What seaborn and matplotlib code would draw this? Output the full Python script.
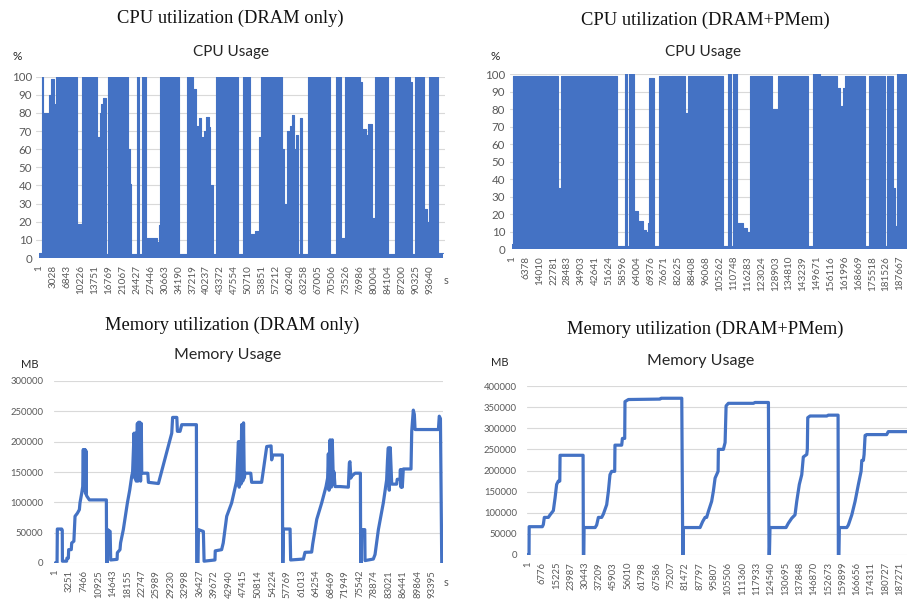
import numpy as np
import pandas as pd
import matplotlib
matplotlib.use("Agg")
import matplotlib.pyplot as plt
import seaborn as sns

# ---------------- data (positions are in category-tick units) ----------------
cpu_dram_ticks = ["1", "3028", "6843", "10226", "13751", "16769", "21067", "24427", "27446",
                  "30663", "34190", "37219", "40237", "43372", "47554", "50710", "53851",
                  "57212", "60240", "63258", "67005", "70506", "73526", "76986", "80004",
                  "84104", "87200", "90325", "93640"]
cpu_pmem_ticks = ["1", "6378", "14010", "22781", "28483", "34903", "42641", "51624", "58596",
                  "64004", "69376", "76671", "82625", "88408", "96068", "105262", "110748",
                  "116283", "123024", "128903", "134810", "143239", "149671", "156116",
                  "161996", "168669", "175518", "181526", "187667"]
mem_dram_ticks = ["1", "3251", "7466", "10925", "14643", "18155", "22747", "25989", "29230",
                  "32998", "36427", "39672", "42940", "47415", "50814", "54224", "57769",
                  "61013", "64254", "68469", "71949", "75542", "78874", "83021", "86441",
                  "89864", "93395"]
mem_pmem_ticks = ["1", "6776", "15225", "23987", "30443", "37209", "45903", "56010", "61798",
                  "67586", "75207", "81472", "87797", "95807", "105506", "111360", "117933",
                  "124540", "130695", "137848", "146870", "152673", "159899", "166656",
                  "174311", "180727", "187271"]

# CPU usage (%) upper envelope of the dense trace, step-wise
cpu_dram_pos = [0.00, 0.19, 0.26, 0.69, 0.86, 1.07, 1.15, 1.24, 1.72, 1.79, 2.75, 3.08, 4.13,
                4.18, 4.35, 4.47, 4.61, 4.82, 4.92, 5.42, 5.49, 5.78, 5.85, 6.40, 6.52, 6.61,
                7.00, 7.14, 7.35, 7.66, 8.43, 8.57, 8.67, 8.95, 9.03, 10.05, 10.58, 11.01,
                11.25, 11.41, 11.49, 11.63, 11.80, 11.94, 12.15, 12.25, 12.49, 12.68, 13.13,
                13.20, 13.42, 13.49, 14.28, 14.64, 14.83, 14.92, 15.11, 15.47, 15.78, 15.88,
                16.07, 16.14, 17.38, 17.55, 17.67, 17.74, 17.88, 17.98, 18.15, 18.29, 18.41,
                18.58, 18.70, 18.86, 19.29, 19.75, 19.82, 20.11, 20.18, 20.85, 21.28, 21.61,
                21.92, 22.99, 23.11, 23.42, 23.59, 23.83, 24.07, 24.55, 24.64, 25.02, 25.50,
                26.58, 26.70, 26.93, 27.58, 27.82, 27.96, 28.61, 28.96]
cpu_dram_pct = [3, 100, 80, 90, 99, 85, 2, 100, 2, 100, 19, 100, 97,
                67, 80, 85, 88, 2, 100, 2, 100, 2, 100, 60, 41, 2,
                100, 2, 100, 11, 9, 18, 100, 82, 100, 2, 100, 93,
                73, 65, 77, 67, 70, 78, 72, 40, 2, 100, 2,
                100, 2, 100, 2, 100, 2, 100, 13, 15, 67, 100,
                2, 100, 60, 30, 15, 70, 64, 73, 79, 60, 68,
                2, 77, 2, 100, 2, 100, 2, 100, 2, 100, 11,
                100, 97, 71, 68, 74, 22, 100, 2, 100, 2, 100,
                97, 2, 100, 27, 20, 100, 3, 3]

cpu_pmem_pos = [0.00, 0.05, 2.55, 2.62, 3.34, 3.44, 3.54, 7.31, 7.36, 7.55, 8.15, 8.32, 8.42,
                8.80, 9.12, 9.43, 9.67, 9.79, 9.88, 10.27, 10.61, 11.38, 11.45, 12.48, 12.72,
                15.25, 15.61, 15.80, 15.92, 16.21, 16.64, 16.93, 17.17, 18.73, 19.22, 21.38,
                21.74, 22.22, 22.32, 23.42, 23.67, 23.86, 24.03, 25.47, 25.78, 26.94, 27.03,
                27.51, 27.63, 27.80, 28.50]
cpu_pmem_pct = [3, 99, 53, 99, 35, 28, 99, 2, 99, 2, 100, 2, 100,
                22, 16, 11, 10, 15, 98, 2, 99, 2, 99, 78, 99,
                2, 100, 2, 100, 15, 12, 10, 99, 80, 99, 2,
                100, 11, 99, 92, 82, 92, 99, 2, 99, 2, 99,
                35, 13, 100, 100]

# Memory usage (MB)
mem_dram_pos = [0.00, 0.14, 0.16, 0.46, 0.50, 0.51, 0.80, 0.82, 0.92, 0.94, 1.12, 1.15, 1.30, 1.38, 1.54, 1.68, 1.72, 1.84, 1.91,
                1.95, 1.98, 2.01, 2.04, 2.07, 2.10, 2.13, 2.16, 2.20, 2.37, 3.54, 3.56, 3.60, 3.63, 3.80, 3.84, 4.28, 4.30, 4.48, 4.52, 4.71, 4.85, 4.99, 5.15, 5.29,
                5.35, 5.45, 5.50, 5.55, 5.60, 5.68, 5.72, 5.76, 5.80, 5.85, 5.90, 5.95, 5.98, 6.40, 6.44, 7.13, 8.05, 8.11, 8.40, 8.44, 8.62, 8.74, 9.75, 9.77, 9.86, 9.89, 10.23, 10.28, 11.03, 11.05, 11.49, 11.60, 11.84, 12.18, 12.53,
                12.65, 12.70, 12.76, 12.82, 12.87, 12.95, 13.00, 13.05, 13.10, 13.50, 13.56, 14.25, 14.60, 14.90, 14.94, 15.01, 15.68, 15.70, 15.72, 15.75, 16.21, 16.25, 17.13, 17.24, 17.70, 17.77, 18.05, 18.39, 18.69,
                18.80, 18.85, 18.90, 18.97, 19.05, 19.12, 19.20, 19.24, 19.31, 19.66, 20.23, 20.30, 20.34, 20.40, 20.46, 20.69, 21.06, 21.08, 21.12, 21.15, 21.36, 21.38, 21.95, 22.07, 22.30, 22.64, 22.87,
                22.93, 22.99, 23.05, 23.12, 23.22, 23.56, 23.60, 23.79, 23.82, 23.86, 23.90, 23.95, 24.02, 24.55, 24.60, 24.71, 24.78, 24.83, 26.44, 26.50, 26.58, 26.67]
mem_dram_mb = [0, 0, 56000, 56000, 54000, 3000, 3000, 8000, 8000, 22000, 22000, 33000, 36000, 77000, 82000, 88000, 99000, 115000, 126000,
               187000, 125000, 187000, 120000, 187000, 115000, 185000, 112000, 110000, 104000, 104000, 0, 0, 55000, 52000, 5000, 6000, 17000, 22000, 33000, 55000, 77000, 99000, 120000, 143000,
               150000, 214000, 140000, 214000, 135000, 230000, 135000, 232000, 140000, 232000, 135000, 230000, 148000, 148000, 133000, 131000, 214000, 240000, 240000, 217000, 217000, 228000, 228000, 0, 0, 55000, 52000, 3000, 5000, 20000, 22000, 33000, 77000, 99000, 136000,
               200000, 125000, 200000, 130000, 228000, 135000, 231000, 140000, 148000, 148000, 133000, 133000, 192000, 193000, 170000, 178000, 178000, 0, 0, 56000, 56000, 5000, 6500, 17600, 18000, 31000, 72000, 99000, 126000,
               140000, 180000, 120000, 203000, 125000, 203000, 130000, 150000, 126000, 126000, 125000, 165000, 167000, 140000, 143000, 148000, 148000, 0, 0, 55000, 55000, 4000, 6500, 14000, 55000, 99000, 137000,
               170000, 190000, 120000, 190000, 130000, 130000, 138000, 138000, 154000, 125000, 154000, 125000, 155000, 155000, 217000, 252000, 245000, 220000, 220000, 242000, 238000, 0]

mem_pmem_pos = [0.00, 0.07, 0.08, 1.00, 1.07, 1.14, 1.42, 1.54, 1.77, 1.89, 2.00, 2.12, 2.22, 2.24,
                3.85, 3.87, 3.90, 3.92, 4.69, 4.80, 4.92, 5.15, 5.27, 5.50, 5.62, 5.73, 5.85, 6.06,
                6.08, 6.55, 6.60, 6.76, 6.78, 7.02, 9.23, 9.30, 10.75, 10.82, 10.84, 10.86, 12.03,
                12.21, 12.38, 12.49, 12.61, 12.84, 12.96, 13.08, 13.29, 13.31, 13.66, 13.78, 13.85,
                14.01, 15.76, 15.87, 16.81, 16.85, 16.88, 16.92, 18.04, 18.20, 18.44, 18.67, 18.79,
                18.97, 19.14, 19.25, 19.49, 19.53, 19.56, 19.72, 20.89, 21.00, 21.68, 21.70, 21.74,
                21.77, 22.29, 22.40, 22.64, 22.87, 23.10, 23.29, 23.34, 23.45, 23.50, 23.57, 23.68,
                25.08, 25.19, 26.50]
mem_pmem_mb = [0, 0, 67000, 67000, 72000, 89000, 89000, 95000, 105000, 135000, 167000, 175000, 175000, 236000,
               236000, 0, 0, 65000, 65000, 71000, 89000, 89000, 97000, 119000, 151000, 190000, 198000, 198000,
               260000, 260000, 276000, 276000, 363000, 368000, 369000, 371000, 371000, 0, 0, 65000, 65000,
               79000, 89000, 89000, 103000, 127000, 151000, 182000, 198000, 250000, 250000, 266000, 353000,
               359000, 359000, 361000, 361000, 0, 0, 65000, 65000, 75000, 87000, 95000, 127000,
               167000, 190000, 232000, 238000, 250000, 325000, 329000, 329000, 331000, 331000, 0, 0,
               65000, 65000, 71000, 95000, 127000, 167000, 198000, 224000, 224000, 238000, 283000, 285000,
               285000, 292000, 292000]

# ---------------- style ----------------
sns.set_theme(style="white")
SANS = ["Lato", "DejaVu Sans"]
SERIF = ["Liberation Serif", "DejaVu Serif"]
plt.rcParams["font.family"] = SANS
BLUE = "#4472C4"
GRID = "#D9D9D9"
TICKC = "#595959"

W, H = 907, 601
fig = plt.figure(figsize=(W / 100, H / 100), dpi=100)


def px_axes(left, right, top, bottom):
    return fig.add_axes([left / W, 1 - bottom / H, (right - left) / W, (bottom - top) / H])


def ftext(x, y, s, **kw):
    fig.text(x / W, 1 - y / H, s, ha="center", va="center", **kw)


def style(ax, xlabels, ysize, xsize, ypad, xpad):
    ax.set_xticks(range(len(xlabels)))
    ax.set_xticklabels(xlabels, rotation=90, fontsize=xsize, color=TICKC)
    ax.tick_params(axis="both", length=0, colors=TICKC)
    ax.tick_params(axis="y", labelsize=ysize, pad=ypad)
    ax.tick_params(axis="x", pad=xpad)
    ax.grid(axis="y", color=GRID, lw=0.8)
    ax.grid(axis="x", visible=False)
    ax.set_axisbelow(True)
    for s in ax.spines.values():
        s.set_visible(False)
    ax.set_xlabel("")
    ax.set_ylabel("")


def cpu_panel(ax, pos, pct):
    df = pd.DataFrame({"pos": pos, "pct": pct})
    ax.fill_between(df["pos"], 0, df["pct"], step="post", color=BLUE, lw=0)
    sns.lineplot(data=df, x="pos", y="pct", ax=ax, color=BLUE, lw=0.8,
                 drawstyle="steps-post", estimator=None, sort=False)
    ax.set_ylim(0, 100)
    ax.set_yticks(range(0, 101, 10))


def mem_panel(ax, pos, mb, top):
    df = pd.DataFrame({"pos": pos, "mb": mb})
    sns.lineplot(data=df, x="pos", y="mb", ax=ax, color=BLUE, lw=2.3,
                 estimator=None, sort=False)
    ax.set_ylim(0, top)
    ax.set_yticks(range(0, top + 1, 50000))


# CPU DRAM only
ax1 = px_axes(35.5, 444.5, 76.7, 258)
cpu_panel(ax1, cpu_dram_pos, cpu_dram_pct)
ax1.set_xlim(-0.25, 29.05)
style(ax1, cpu_dram_ticks, 8.3, 7.2, 2.5, 5)

# CPU DRAM+PMem
ax2 = px_axes(509.9, 907, 74, 249)
cpu_panel(ax2, cpu_pmem_pos, cpu_pmem_pct)
ax2.set_xlim(-0.15, 28.5)
style(ax2, cpu_pmem_ticks, 8.3, 7.2, 3.5, 5)

# Memory DRAM only
ax3 = px_axes(54.3, 442.9, 381, 563)
mem_panel(ax3, mem_dram_pos, mem_dram_mb, 300000)
ax3.set_xlim(-0.05, 26.75)
style(ax3, mem_dram_ticks, 6.8, 6.8, 8, 5)

# Memory DRAM+PMem
ax4 = px_axes(526.6, 907, 386, 555)
mem_panel(ax4, mem_pmem_pos, mem_pmem_mb, 400000)
ax4.set_xlim(-0.1, 26.5)
style(ax4, mem_pmem_ticks, 6.8, 6.8, 7, 5)

# titles and unit labels
ftext(230, 18, "CPU utilization (DRAM only)", family=SERIF, fontsize=13.3, color="#111111")
ftext(705, 20, "CPU utilization (DRAM+PMem)", family=SERIF, fontsize=13.3, color="#111111")
ftext(232, 325, "Memory utilization (DRAM only)", family=SERIF, fontsize=13.3, color="#111111")
ftext(705, 329, "Memory utilization (DRAM+PMem)", family=SERIF, fontsize=13.3, color="#111111")

ftext(231, 52, "CPU Usage", fontsize=11, color="#262626")
ftext(703, 52, "CPU Usage", fontsize=11, color="#262626")
ftext(228, 355, "Memory Usage", fontsize=11.5, color="#262626")
ftext(701, 361, "Memory Usage", fontsize=11.5, color="#262626")

ftext(17, 56, "%", fontsize=8.5, color="#262626")
ftext(495, 57, "%", fontsize=8.5, color="#262626")
ftext(30, 364, "MB", fontsize=8, color="#262626")
ftext(500, 363, "MB", fontsize=8, color="#262626")
ftext(446, 280, "s", fontsize=8, color=TICKC)
ftext(446, 582, "s", fontsize=8, color=TICKC)

fig.savefig("out.png", dpi=100)
